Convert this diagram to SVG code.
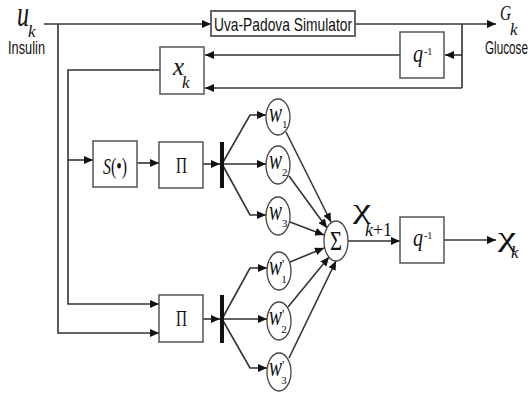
<svg xmlns="http://www.w3.org/2000/svg" width="530" height="394" viewBox="0 0 530 394">
<defs>
<marker id="ah" markerUnits="userSpaceOnUse" markerWidth="10" markerHeight="8" refX="9" refY="4" orient="auto">
<path d="M0,0 L9,4 L0,8 z" fill="#111"/>
</marker>
<style>
.ln{fill:none;stroke:#333;stroke-width:1.6}
.ar{fill:none;stroke:#333;stroke-width:1.6;marker-end:url(#ah)}
.bx{fill:#fff;stroke:#555;stroke-width:1.5}
.el{fill:#fff;stroke:#444;stroke-width:1.3}
.m{font-family:"Liberation Serif",serif;font-style:italic;fill:#111}
.r{font-family:"Liberation Serif",serif;fill:#111}
.s{font-family:"Liberation Sans",Arial,sans-serif;fill:#111}
.n{font-style:normal}
</style>
</defs>
<rect width="530" height="394" fill="#fff"/>
<g id="connectors">
<path class="ar" d="M44,24 H211"/>
<path class="ar" d="M355,24 H496"/>
<path class="ln" d="M462,24 V88"/>
<path class="ar" d="M462,55 H445"/>
<path class="ar" d="M400,55 H205"/>
<path class="ar" d="M462,88 H205"/>
<path class="ar" d="M160,70 H68 V304 H159"/>
<path class="ar" d="M58,24 V333 H159"/>
<path class="ar" d="M68,160 H93"/>
<path class="ar" d="M137,163 H159"/>
<path class="ar" d="M203,164 H220"/>
<path class="ar" d="M222,164 L250,115 H266"/>
<path class="ar" d="M222,164 H266"/>
<path class="ar" d="M222,164 L250,215 H266"/>
<path class="ar" d="M203,319 H220"/>
<path class="ar" d="M222,319 L250,268 H267"/>
<path class="ar" d="M222,319 H267"/>
<path class="ar" d="M222,319 L250,368 H267"/>
<path class="ar" d="M286,132 L331,222"/>
<path class="ar" d="M289,176 L327,228"/>
<path class="ar" d="M290,222 L324,235"/>
<path class="ar" d="M290,262 L324,248"/>
<path class="ar" d="M288,307 L329,257"/>
<path class="ar" d="M289,358 L336,261"/>
<path class="ar" d="M348,241 H400"/>
<path class="ar" d="M444,240 H496"/>
<rect x="220" y="142" width="4" height="46" fill="#111"/>
<rect x="220" y="295" width="4" height="48" fill="#111"/>
</g>
<g id="label-u">
<text class="m" x="17" y="26" font-size="36"><tspan textLength="12" lengthAdjust="spacingAndGlyphs">u</tspan><tspan font-size="17" dx="-1" dy="11">k</tspan></text>
<text class="s" x="8" y="54" font-size="19" textLength="37" lengthAdjust="spacingAndGlyphs">Insulin</text>
</g>
<g id="label-g">
<text class="m" x="500" y="20" font-size="22"><tspan textLength="11" lengthAdjust="spacingAndGlyphs">G</tspan><tspan font-size="17" dx="-1" dy="15">k</tspan></text>
<text class="s" x="485" y="54" font-size="19" textLength="43" lengthAdjust="spacingAndGlyphs">Glucose</text>
</g>
<g id="simulator">
<rect x="211" y="11" width="144" height="25" fill="#fff" stroke="#666" stroke-width="2"/>
<text class="s" x="214" y="31" font-size="19" textLength="138" lengthAdjust="spacingAndGlyphs">Uva-Padova Simulator</text>
</g>
<g id="delay-top">
<rect class="bx" x="400" y="32" width="44" height="46"/>
<text class="m" x="413" y="62" font-size="26"><tspan textLength="10" lengthAdjust="spacingAndGlyphs">q</tspan><tspan class="n" font-size="10" dx="1" dy="-7">-1</tspan></text>
</g>
<g id="xk">
<rect class="bx" x="160" y="47" width="44" height="47"/>
<text class="m" x="173" y="75" font-size="26"><tspan textLength="11" lengthAdjust="spacingAndGlyphs">x</tspan><tspan font-size="17" dx="-2" dy="13">k</tspan></text>
</g>
<g id="sfun">
<rect class="bx" x="93" y="141" width="44" height="46"/>
<text class="r" x="103" y="174" font-size="24" textLength="24" lengthAdjust="spacingAndGlyphs"><tspan font-style="italic">S</tspan>(•)</text>
</g>
<g id="pi-top">
<rect class="bx" x="159" y="142" width="44" height="46"/>
<text class="r" x="176" y="173" font-size="24" textLength="11" lengthAdjust="spacingAndGlyphs">Π</text>
</g>
<g id="pi-bottom">
<rect class="bx" x="159" y="295" width="44" height="47"/>
<text class="r" x="176" y="326" font-size="24" textLength="11" lengthAdjust="spacingAndGlyphs">Π</text>
</g>
<g id="w1">
<ellipse class="el" cx="278" cy="117" rx="12" ry="18"/>
<text class="m" x="269" y="122" font-size="28"><tspan textLength="13" lengthAdjust="spacingAndGlyphs">w</tspan><tspan class="n" font-size="11" dy="6">1</tspan></text>
</g>
<g id="w2">
<ellipse class="el" cx="278" cy="165" rx="12" ry="19"/>
<text class="m" x="269" y="169" font-size="28"><tspan textLength="13" lengthAdjust="spacingAndGlyphs">w</tspan><tspan class="n" font-size="11" dy="7">2</tspan></text>
</g>
<g id="w3">
<ellipse class="el" cx="278" cy="216" rx="12" ry="19"/>
<text class="m" x="269" y="220" font-size="28"><tspan textLength="13" lengthAdjust="spacingAndGlyphs">w</tspan><tspan class="n" font-size="11" dy="7">3</tspan></text>
</g>
<g id="wp1">
<ellipse class="el" cx="279" cy="271" rx="12" ry="19"/>
<text class="m" x="269" y="275" font-size="28"><tspan textLength="13" lengthAdjust="spacingAndGlyphs">w</tspan><tspan class="n" font-size="13" dy="-7">'</tspan><tspan class="n" font-size="11" dx="-3" dy="15">1</tspan></text>
</g>
<g id="wp2">
<ellipse class="el" cx="279" cy="321" rx="12" ry="19"/>
<text class="m" x="269" y="325" font-size="28"><tspan textLength="13" lengthAdjust="spacingAndGlyphs">w</tspan><tspan class="n" font-size="13" dy="-7">'</tspan><tspan class="n" font-size="11" dx="-3" dy="15">2</tspan></text>
</g>
<g id="wp3">
<ellipse class="el" cx="279" cy="372" rx="12" ry="19"/>
<text class="m" x="269" y="376" font-size="28"><tspan textLength="13" lengthAdjust="spacingAndGlyphs">w</tspan><tspan class="n" font-size="13" dy="-7">'</tspan><tspan class="n" font-size="11" dx="-3" dy="15">3</tspan></text>
</g>
<g id="sum">
<ellipse class="el" cx="336" cy="241" rx="12" ry="20"/>
<text class="r" x="336" y="250" font-size="27" text-anchor="middle" textLength="12" lengthAdjust="spacingAndGlyphs">Σ</text>
</g>
<g id="label-chi-next">
<text class="r" x="353" y="218" font-size="27"><tspan textLength="18" lengthAdjust="spacingAndGlyphs">χ</tspan><tspan font-size="18" dx="-6" dy="18" textLength="27" lengthAdjust="spacingAndGlyphs"><tspan font-style="italic">k</tspan>+1</tspan></text>
</g>
<g id="delay-out">
<rect class="bx" x="400" y="217" width="44" height="46"/>
<text class="m" x="413" y="246" font-size="26"><tspan textLength="10" lengthAdjust="spacingAndGlyphs">q</tspan><tspan class="n" font-size="10" dx="1" dy="-7">-1</tspan></text>
</g>
<g id="label-chi">
<text class="r" x="498" y="246" font-size="27"><tspan textLength="18" lengthAdjust="spacingAndGlyphs">χ</tspan><tspan font-style="italic" font-size="17" dx="-5" dy="12">k</tspan></text>
</g>
</svg>
